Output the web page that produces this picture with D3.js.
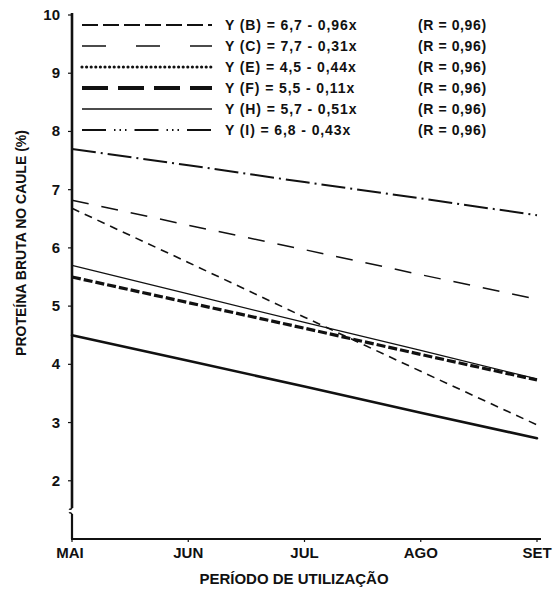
<!DOCTYPE html>
<html><head><meta charset="utf-8">
<script src="https://cdn.jsdelivr.net/npm/d3@7"></script>
<style>body{margin:0;background:#fff}text{font-family:"Liberation Sans",Arial,sans-serif;font-weight:bold;fill:#111}</style>
</head><body>
<svg id="c" width="559" height="605"></svg>
<script>
const months = ["MAI","JUN","JUL","AGO","SET"];
const yTicks = [2,3,4,5,6,7,8,9,10];
const serB = [6.68, 5.75, 4.81, 3.88, 2.96];
const serC = [6.82, 6.39, 5.97, 5.54, 5.12];
const serE = [4.50, 4.06, 3.62, 3.17, 2.73];
const serF = [5.50, 5.06, 4.62, 4.17, 3.73];
const serH = [5.70, 5.21, 4.72, 4.24, 3.75];
const serI = [7.70, 7.42, 7.13, 6.85, 6.56];
const eqLabels = ["Y (B) = 6,7 - 0,96x","Y (C) = 7,7 - 0,31x","Y (E) = 4,5 - 0,44x","Y (F) = 5,5 - 0,11x","Y (H) = 5,7 - 0,51x","Y (I)  = 6,8 - 0,43x"];
const rLabels = ["(R = 0,96)","(R = 0,96)","(R = 0,96)","(R = 0,96)","(R = 0,96)","(R = 0,96)"];

const series = [
  {v:serB, w:1.6, dash:"8,6", lw:2, ldash:"16,5", cap:"butt"},
  {v:serC, w:1.5, dash:"17,13", lw:1.6, ldash:"24,30", cap:"butt"},
  {v:serE, w:2.6, dash:null, lw:3.2, ldash:"0,4.6", cap:"round", lcap:"round"},
  {v:serF, w:3.2, dash:"9,3", lw:4, ldash:"26,10", cap:"butt"},
  {v:serH, w:1.2, dash:null, lw:1.3, ldash:null, cap:"butt"},
  {v:serI, w:2, dash:"24,5,2,5", lw:2, ldash:"24,8,1.5,4,1.5,4,1.5,8", cap:"butt"}
];

const svg = d3.select("#c");
const x = d3.scalePoint().domain(months).range([72, 537]);
const y = d3.scaleLinear().domain([1,10]).range([539, 15]);

// lines
const line = d3.line().x((d,i)=>x(months[i])).y(d=>y(d));
series.forEach(s=>{
  svg.append("path").attr("d", line(s.v)).attr("fill","none")
    .attr("stroke","#111").attr("stroke-width", s.w)
    .attr("stroke-dasharray", s.dash).attr("stroke-linecap", s.cap);
});

// y axis with break
const ax = 72;
svg.append("line").attr("x1",ax).attr("x2",ax).attr("y1",y(10)-2).attr("y2",508).attr("stroke","#111").attr("stroke-width",2.6);
svg.append("path").attr("d",`M${ax},514 L${ax},${y(1)}`).attr("stroke","#111").attr("stroke-width",2.2).attr("fill","none");
svg.append("path").attr("d",`M${ax},508 q-1.5,2 -3,1`).attr("stroke","#111").attr("stroke-width",1.5).attr("fill","none");
svg.append("path").attr("d",`M${ax},514 q-1.5,-2 -3,-1`).attr("stroke","#111").attr("stroke-width",1.5).attr("fill","none");
// y ticks
yTicks.forEach(t=>{
  svg.append("line").attr("x1",ax-4).attr("x2",ax).attr("y1",y(t)).attr("y2",y(t)).attr("stroke","#111").attr("stroke-width",1.2);
  svg.append("text").attr("x",ax-12).attr("y",y(t)+5).attr("text-anchor","end").attr("font-size",15).text(t);
});
// x axis
svg.append("line").attr("x1",ax-1).attr("x2",541).attr("y1",y(1)).attr("y2",y(1)).attr("stroke","#111").attr("stroke-width",1.8);
months.forEach(m=>{
  svg.append("line").attr("x1",x(m)).attr("x2",x(m)).attr("y1",y(1)).attr("y2",y(1)+3).attr("stroke","#111").attr("stroke-width",1.2);
  svg.append("text").attr("x",x(m)-(m==="MAI"?2:0)).attr("y",558).attr("text-anchor","middle").attr("font-size",15).text(m);
});

// axis titles
svg.append("text").attr("x",294).attr("y",584).attr("text-anchor","middle").attr("font-size",15).text("PERÍODO DE UTILIZAÇÃO");
svg.append("text").attr("transform","translate(26,243) rotate(-90)").attr("text-anchor","middle").attr("font-size",14).text("PROTEÍNA BRUTA NO CAULE (%)");

// legend
const rowY = [25,46,67,88,109,130];
series.forEach((s,i)=>{
  svg.append("line").attr("x1",82).attr("x2",212).attr("y1",rowY[i]).attr("y2",rowY[i])
    .attr("stroke","#111").attr("stroke-width",s.lw).attr("stroke-dasharray",s.ldash)
    .attr("stroke-linecap", s.lcap||"butt");
  svg.append("text").attr("x",225).attr("y",rowY[i]+5).attr("font-size",14).attr("letter-spacing",0.9).text(eqLabels[i]);
  svg.append("text").attr("x",418).attr("y",rowY[i]+5).attr("font-size",14).attr("letter-spacing",0.6).text(rLabels[i]);
});
</script>
</body></html>
